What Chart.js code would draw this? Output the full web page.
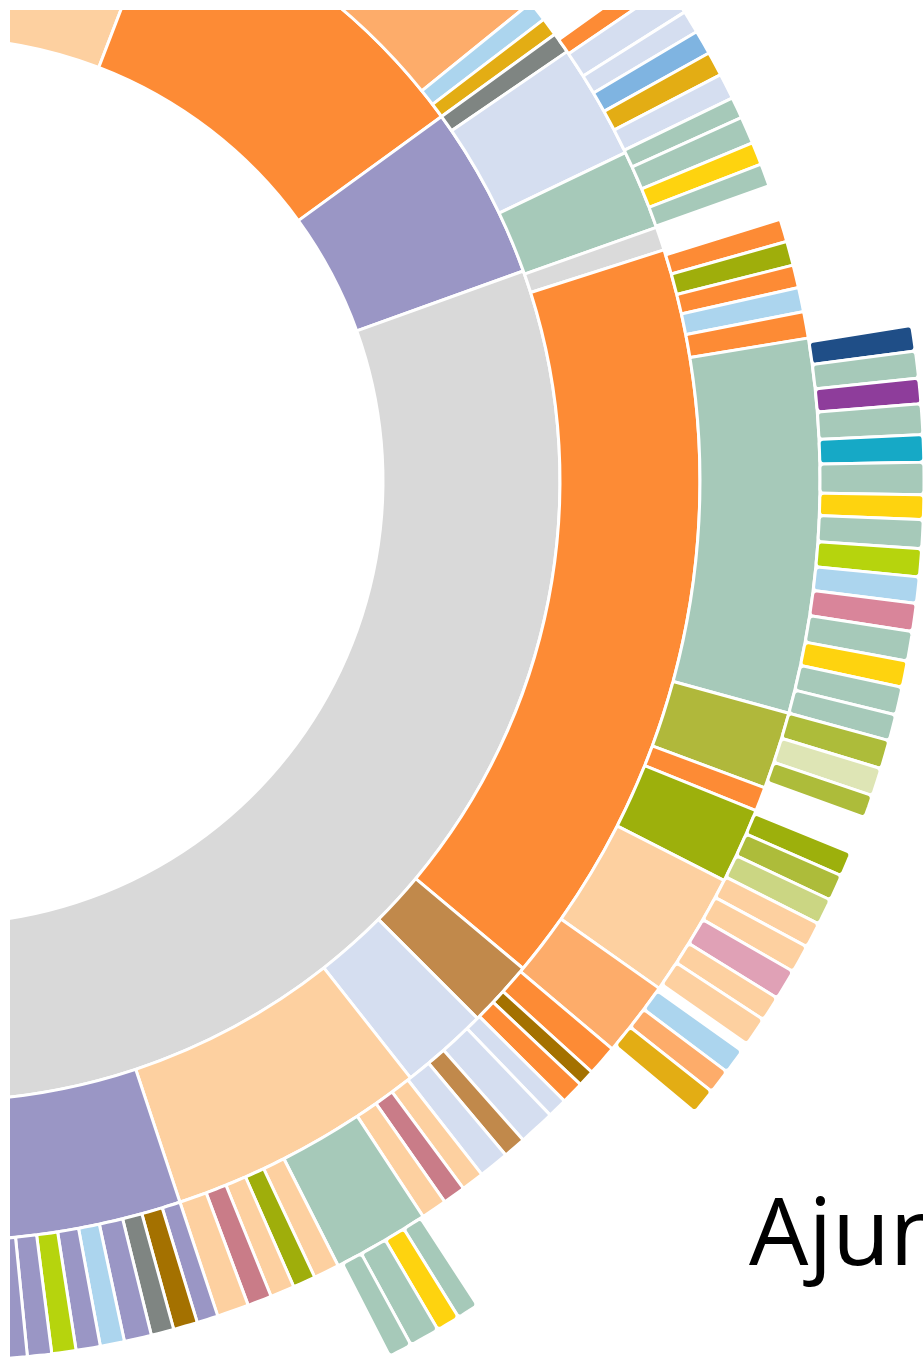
<!DOCTYPE html>
<html>
<head>
<meta charset="utf-8">
<script src="https://cdn.jsdelivr.net/npm/chart.js@4.4.1/dist/chart.umd.min.js"></script>
<style>
  html, body { margin: 0; padding: 0; background: #fff; overflow: hidden; width: 923px; height: 1361px; }
  #frame { position: absolute; left: 10px; top: 10px; width: 913px; height: 1351px; overflow: hidden; }
  #sunburst { position: absolute; left: -1070px; top: -529px; width: 2000px; height: 2000px; }
  #title { position: absolute; left: 749px; top: 1165px; font-family: 'Open Sans', sans-serif; font-size: 94px; color: #000; white-space: nowrap; line-height: normal; }
</style>
</head>
<body>
<div id="frame"><canvas id="sunburst" width="2000" height="2000"></canvas></div>
<div id="title">Ajuntament</div>
<script>
// Segment sizes per ring, clockwise from the top (null colour = empty / off the page)
const ring1Values = [21, 33, 16.2, 119.8, 170];
const ring1Colors = ['peach', 'orange', 'purple', 'gray', null];

const ring2Values = [21, 30, 1.6, 1.4, 1.6, 8.8, 6.1, 1.8, 57.6, 5.1, 6.75, 19.85, 28.4, 170];
const ring2Colors = [null, 'lorange', 'lblue', 'gold', 'dgray', 'lav', 'teal', 'lgray', 'orange', 'brown', 'lav', 'peach', 'purple', null];

const ring3Values = [54.5, 1.3, 2.0, 1.5, 1.6, 1.6, 1.7, 1.4, 1.8, 1.5, 1.5, 2.3,
  1.5, 1.6, 1.5, 1.6, 1.75, 24.65, 5.1, 1.6, 5.0, 8.2, 5.0,
  2.0, 1.1, 1.5, 1.3, 2.4, 1.5, 2.0,
  1.5, 1.5, 1.7, 6.4, 1.7, 1.5, 1.6, 1.6, 2.1,
  1.4, 1.6, 1.5, 1.8, 1.6, 1.6, 1.6, 1.6, 1.7, 2.0, 182];
const ring3Colors = [null, 'orange', 'lav', 'lav', 'blue', 'gold', 'lav', 'teal', 'teal', 'yellow', 'teal', null,
  'orange', 'olive', 'orange', 'lblue', 'orange', 'teal', 'olive3', 'orange', 'dolive', 'peach', 'lorange',
  'orange', 'dbrown', 'orange', 'lav', 'lav', 'brown', 'lav',
  'peach', 'pink2', 'peach', 'teal', 'peach', 'olive', 'peach', 'pink2', 'peach',
  'purple', 'dbrown', 'dgray', 'purple', 'lblue', 'purple', 'ygreen', 'purple', 'purple', 'purple', null];

const ring4Values = [80.9, 1.5, 1.6, 1.5, 1.8, 1.6, 1.9, 1.45, 1.7, 1.65, 1.55, 1.65, 1.75, 1.55, 1.65, 1.55,
  1.7, 1.65, 1.35, 2.2,
  1.45, 1.55, 1.55, 1.5, 1.65, 1.8, 1.5, 1.7, 0.5,
  1.5, 1.45, 1.55, 17.0,
  1.3, 1.4, 1.8, 1.4, 207.2];
const ring4Colors = [null, 'dblue', 'teal', 'violet', 'teal', 'cyan', 'teal', 'yellow', 'teal', 'ygreen', 'lblue', 'pink', 'teal', 'yellow', 'teal', 'teal',
  'olive2', 'lolive', 'olive2', null,
  'dolive', 'olive2', 'lolive2', 'peach', 'peach', 'pink3', 'peach', 'peach', null,
  'lblue', 'lorange', 'gold', null,
  'teal', 'yellow', 'teal', 'teal', null];

const palette = {
  gray: '#d9d9d9', lgray: '#dadada', purple: '#9a96c5', orange: '#fd8b35', lorange: '#fdac6a',
  peach: '#fdd0a0', lav: '#d5def0', teal: '#a6c9b9', lblue: '#acd5ee', gold: '#e3ad14',
  dgray: '#7f8582', brown: '#c1894b', dbrown: '#a47100', blue: '#7fb4e1', yellow: '#fed30f',
  olive: '#9fae0b', olive2: '#adbc3a', olive3: '#b0b83b', dolive: '#9db00c', lolive: '#dee5b5',
  lolive2: '#cbd683', ygreen: '#b6d40d', dblue: '#1f4e87', violet: '#8e3d9b', cyan: '#16a9c6',
  pink: '#d9859a', pink2: '#c97c88', pink3: '#e0a1b6'
};

function ring(values, keys, weight, radius) {
  return {
    data: values,
    backgroundColor: keys.map(k => k ? palette[k] : 'rgba(0,0,0,0)'),
    borderColor: '#ffffff',
    borderWidth: keys.map(k => k ? 3 : 0),
    borderRadius: radius,
    weight: weight
  };
}

const ctx = document.getElementById('sunburst').getContext('2d');
new Chart(ctx, {
  type: 'doughnut',
  data: {
    datasets: [
      ring(ring4Values, ring4Colors, 104, 4),
      ring(ring3Values, ring3Colors, 120, 2),
      ring(ring2Values, ring2Colors, 140, 0),
      ring(ring1Values, ring1Colors, 177, 0)
    ]
  },
  options: {
    responsive: false,
    animation: false,
    events: [],
    radius: 984,
    cutout: '45.02%',
    plugins: {
      legend: { display: false },
      tooltip: { enabled: false }
    }
  }
});
</script>
</body>
</html>
